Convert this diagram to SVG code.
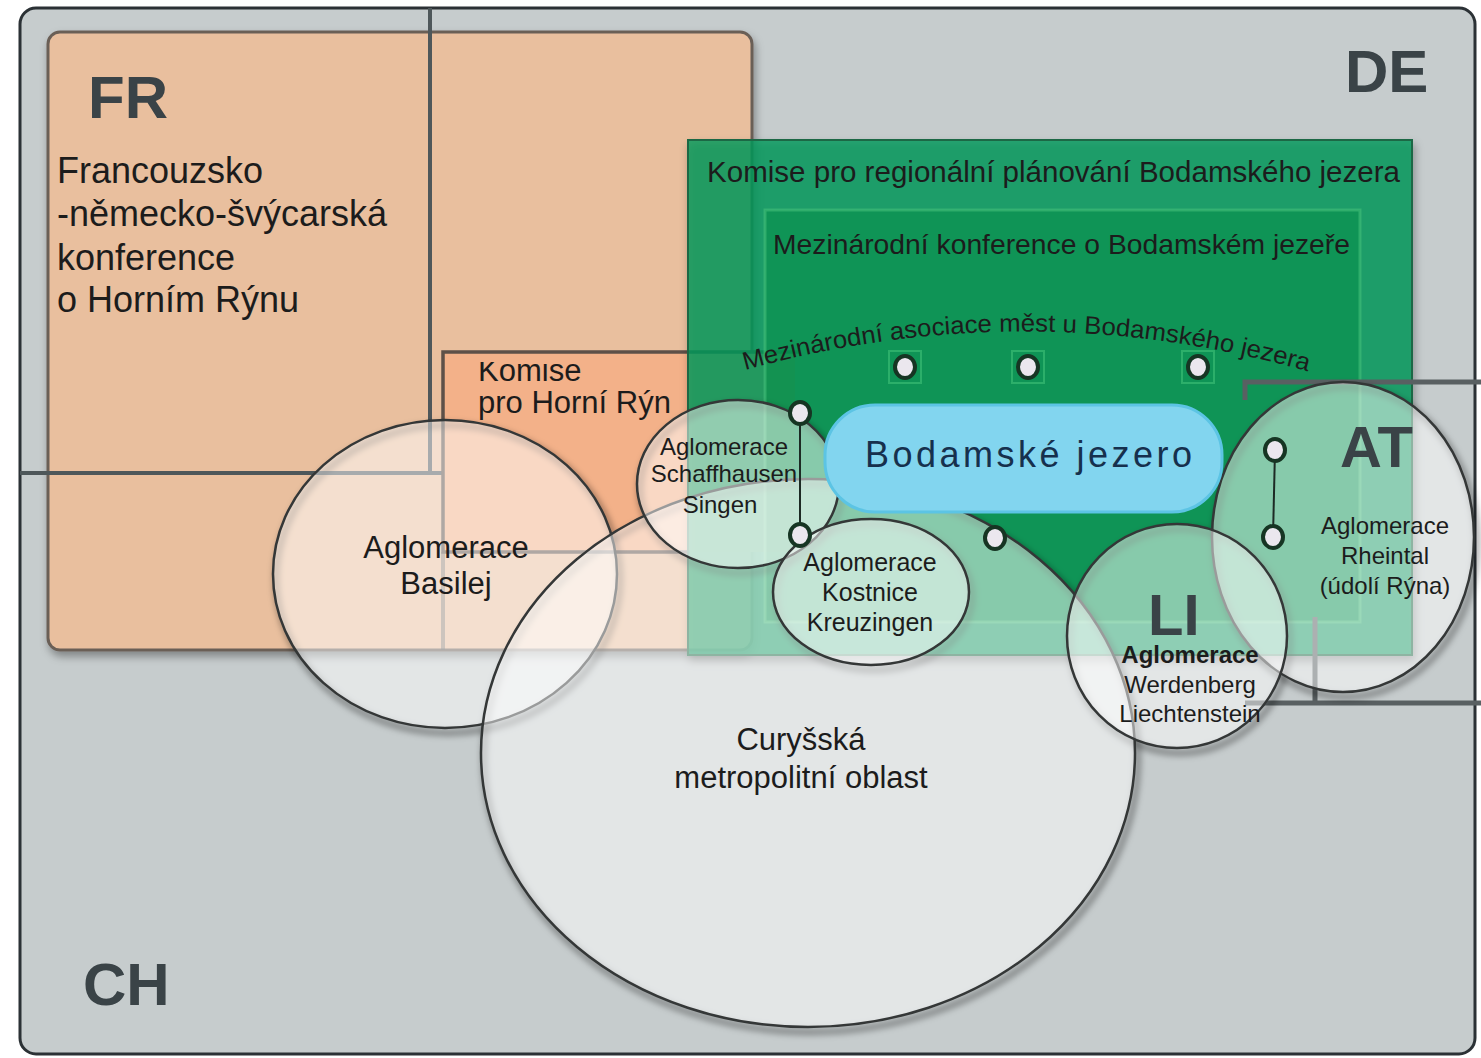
<svg xmlns="http://www.w3.org/2000/svg" width="1481" height="1058" viewBox="0 0 1481 1058">
<defs>
<style>
.t{font-family:"Liberation Sans",Arial,sans-serif;fill:#1c1c1c}
.c{font-family:"Liberation Sans",Arial,sans-serif;font-weight:bold;fill:#3a4347}
.ell{fill:#ffffff;fill-opacity:.5;stroke:#343737;stroke-width:2.5}
.esh{fill:none;stroke:#000;stroke-opacity:.35;stroke-width:6}
.node{fill:#ebe7ee;stroke:#163523;stroke-width:4}
.bord{stroke:#4e575a;stroke-width:4;fill:none}
.sq{fill:none;stroke:#45c47c;stroke-opacity:.55;stroke-width:2}
.ln{stroke:#1d2a24;stroke-width:2;fill:none}
</style>
<filter id="sh" x="-10%" y="-10%" width="120%" height="125%">
<feDropShadow dx="2" dy="5" stdDeviation="4" flood-color="#000" flood-opacity=".35"/>
</filter>
<filter id="bl" x="-10%" y="-10%" width="120%" height="120%">
<feGaussianBlur stdDeviation="3"/>
</filter>
<clipPath id="kclip"><rect x="443" y="362" width="360" height="200"/></clipPath>
</defs>

<g id="frame">
<rect x="20" y="8" width="1455" height="1046" rx="16" fill="#c6cccd" stroke="#2b3135" stroke-width="3"/>
<text class="c" x="1345" y="92" font-size="60">DE</text>
<text class="c" x="83" y="1005" font-size="60">CH</text>
</g>

<g id="fr">
<rect x="48" y="32" width="704" height="618" rx="12" fill="#e9bf9e" stroke="#6a5f57" stroke-width="3" filter="url(#sh)"/>
<text class="c" x="88" y="118" font-size="60">FR</text>
<text class="t" x="57" font-size="36"><tspan x="57" y="183">Francouzsko</tspan><tspan x="57" y="226">-německo-švýcarská</tspan><tspan x="57" y="270">konference</tspan><tspan x="57" y="312">o Horním Rýnu</tspan></text>
</g>

<g id="borders">
<line class="bord" x1="430" y1="8" x2="430" y2="473"/>
<line class="bord" x1="20" y1="473" x2="640" y2="473"/>
<line class="bord" x1="443" y1="552" x2="443" y2="650" stroke-opacity=".5"/>
</g>

<g id="komise-rhein">
<rect x="443" y="352" width="352" height="200" fill="#f3b189"/>
<path d="M 800 352 L 443 352 L 443 552 L 690 552" fill="none" stroke="#5e5048" stroke-width="3.5"/>
<text class="t" font-size="31" clip-path="url(#kclip)"><tspan x="478" y="381">Komise</tspan><tspan x="478" y="413">pro Horní Rýn</tspan></text>
</g>

<g id="komise-bodensee">
<rect x="688" y="140" width="724" height="515" fill="#00995a" fill-opacity=".8" stroke="#1d6844" stroke-width="2" filter="url(#sh)"/>
<text class="t" x="707" y="182" font-size="29.5" textLength="693" lengthAdjust="spacingAndGlyphs">Komise pro regionální plánování Bodamského jezera</text>
</g>

<g id="konference-bodensee">
<rect x="765" y="210" width="595" height="412" fill="#008a40" fill-opacity=".45" stroke="#45c07a" stroke-opacity=".6" stroke-width="3"/>
<text class="t" x="773" y="254" font-size="28" textLength="577" lengthAdjust="spacingAndGlyphs">Mezinárodní konference o Bodamském jezeře</text>
</g>

<g id="asociace">
<path id="arc" d="M 745 370 Q 1028 292 1310 372" fill="none"/>
<text class="t" font-size="25"><textPath href="#arc" textLength="570" lengthAdjust="spacingAndGlyphs">Mezinárodní asociace měst u Bodamského jezera</textPath></text>
<rect class="sq" x="889" y="351" width="32" height="32"/>
<rect class="sq" x="1012" y="351" width="32" height="32"/>
<rect class="sq" x="1182" y="351" width="32" height="32"/>
</g>

<g id="at-box">
<path d="M 1245 400 L 1245 382 L 1481 382 M 1245 703 L 1481 703 M 1315 617 L 1315 703" fill="none" stroke="#596062" stroke-width="5"/>
</g>

<g id="shadows" filter="url(#bl)" transform="translate(3,5)">
<ellipse class="esh" cx="445" cy="574" rx="172" ry="154"/>
<ellipse class="esh" cx="808" cy="753" rx="327" ry="274"/>
<ellipse class="esh" cx="738" cy="484" rx="101" ry="84"/>
<ellipse class="esh" cx="871" cy="592" rx="98" ry="73"/>
<ellipse class="esh" cx="1343" cy="537" rx="131" ry="155"/>
<ellipse class="esh" cx="1177" cy="636" rx="110" ry="112"/>
</g>

<g id="basilej">
<ellipse class="ell" cx="445" cy="574" rx="172" ry="154"/>
<text class="t" font-size="31" text-anchor="middle"><tspan x="446" y="558">Aglomerace</tspan><tspan x="446" y="594">Basilej</tspan></text>
</g>

<g id="curych">
<ellipse class="ell" cx="808" cy="753" rx="327" ry="274"/>
<text class="t" font-size="31" text-anchor="middle"><tspan x="801" y="750">Curyšská</tspan><tspan x="801" y="788">metropolitní oblast</tspan></text>
</g>

<g id="schaffhausen">
<ellipse class="ell" cx="738" cy="484" rx="101" ry="84"/>
<text class="t" font-size="24" text-anchor="middle"><tspan x="724" y="455">Aglomerace</tspan><tspan x="724" y="482">Schaffhausen</tspan><tspan x="720" y="513">Singen</tspan></text>
</g>

<g id="kostnice">
<ellipse class="ell" cx="871" cy="592" rx="98" ry="73"/>
<text class="t" font-size="25" text-anchor="middle"><tspan x="870" y="571">Aglomerace</tspan><tspan x="870" y="601">Kostnice</tspan><tspan x="870" y="631">Kreuzingen</tspan></text>
</g>

<g id="rheintal">
<ellipse class="ell" cx="1343" cy="537" rx="131" ry="155"/>
<text class="c" x="1340" y="467" font-size="58" fill="#2f3c36">AT</text>
<text class="t" font-size="24" text-anchor="middle"><tspan x="1385" y="534">Aglomerace</tspan><tspan x="1385" y="564">Rheintal</tspan><tspan x="1385" y="594">(údolí Rýna)</tspan></text>
</g>

<g id="werdenberg">
<ellipse class="ell" cx="1177" cy="636" rx="110" ry="112"/>
<text class="c" x="1148" y="635" font-size="58" fill="#2d4a3a">LI</text>
<text class="t" font-size="24" text-anchor="middle"><tspan x="1190" y="663" font-weight="bold">Aglomerace</tspan><tspan x="1190" y="693">Werdenberg</tspan><tspan x="1190" y="722">Liechtenstein</tspan></text>
</g>

<g id="bodensee">
<rect x="825" y="405" width="397" height="107" rx="50" fill="#82d5ef" stroke="#5cc4e4" stroke-width="3"/>
<text x="865" y="467" font-family="Liberation Sans, Arial, sans-serif" font-size="36" fill="#16304d" textLength="327" lengthAdjust="spacing">Bodamské jezero</text>
</g>

<g id="connectors">
<line class="ln" x1="800" y1="413" x2="800" y2="535"/>
<line class="ln" x1="1275" y1="450" x2="1273" y2="537"/>
</g>

<g id="nodes">
<ellipse class="node" cx="800" cy="413" rx="10" ry="11"/>
<ellipse class="node" cx="905" cy="367" rx="10" ry="11"/>
<ellipse class="node" cx="1028" cy="367" rx="10" ry="11"/>
<ellipse class="node" cx="1198" cy="367" rx="10" ry="11"/>
<ellipse class="node" cx="1275" cy="450" rx="10" ry="11"/>
<ellipse class="node" cx="1273" cy="537" rx="10" ry="11"/>
<ellipse class="node" cx="995" cy="538" rx="10" ry="11"/>
<ellipse class="node" cx="800" cy="535" rx="10" ry="11"/>
</g>
</svg>
